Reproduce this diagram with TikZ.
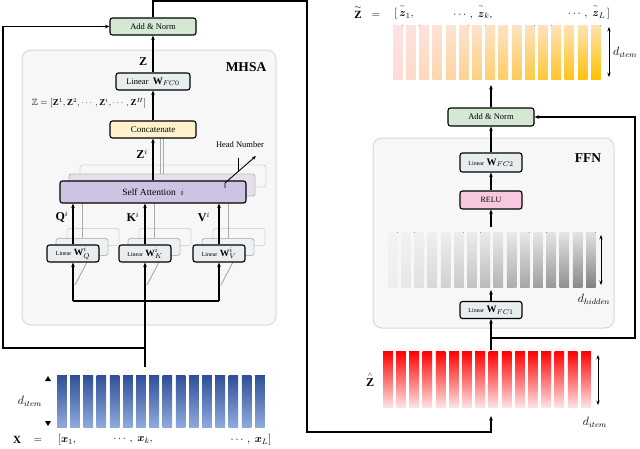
\documentclass[tikz,border=0pt]{standalone}
\usepackage{amsmath,amssymb}
\usepackage{fontspec}
\setmainfont{Liberation Serif}
\usetikzlibrary{arrows.meta,calc}
\definecolor{addC}{HTML}{D5E8D4}
\definecolor{linC}{HTML}{E8EDEF}
\definecolor{catC}{HTML}{FFF2CC}
\definecolor{saC}{HTML}{CDC4E4}
\definecolor{saL}{HTML}{E4E0EE}
\definecolor{reluC}{HTML}{F8C8DF}
\definecolor{contF}{HTML}{F7F7F7}
\definecolor{contB}{HTML}{D9D9D9}
\definecolor{shA}{HTML}{BDBDBD}
\definecolor{shB}{HTML}{D8D8D8}
\definecolor{ghostC}{HTML}{AAAAAA}
\definecolor{blueT}{HTML}{2E4F98}
\definecolor{blueB}{HTML}{8FAADD}
\definecolor{redT}{HTML}{FF0000}
\definecolor{redB}{HTML}{FFE2E2}
\definecolor{tzTL}{HTML}{FDE3E1}
\definecolor{tzTR}{HTML}{FFE2B0}
\definecolor{tzBL}{HTML}{FDDCD8}
\definecolor{tzBR}{HTML}{FFC000}
\definecolor{gTL}{HTML}{F3F3F3}
\definecolor{gTR}{HTML}{E2E2E2}
\definecolor{gBL}{HTML}{EEEEEE}
\definecolor{gBR}{HTML}{828282}
\tikzset{
  wire/.style={line width=1.1pt, draw=black},
  arr/.style={wire, -{Stealth[length=4.5pt,width=3.6pt]}},
  dblarr/.style={line width=0.7pt, {Stealth[length=4.5pt,width=3.4pt]}-{Stealth[length=4.5pt,width=3.4pt]}},
  blk/.style={draw=black, line width=1.1pt, rounded corners=2.5pt, inner sep=0pt, font=\fontsize{8.5}{9}\selectfont},
  container/.style={draw=contB, fill=contF, line width=1pt, rounded corners=9pt},
  shadowA/.style={draw=shA, line width=0.9pt, rounded corners=2.5pt, inner sep=0pt},
  shadowB/.style={draw=shB, line width=0.9pt, rounded corners=2.5pt, inner sep=0pt},
  ghost/.style={draw=ghostC, line width=0.9pt},
  lbl/.style={inner sep=0pt, font=\fontsize{11}{12}\selectfont},
}
\newcommand{\lintxt}{\mbox{\fontsize{6}{7}\selectfont Linear}}
\newcommand{\tz}[1]{\overset{\scriptscriptstyle\sim}{\boldsymbol{z}\vphantom{\mathbf{Z}}}_{#1}}
\begin{document}
\begin{tikzpicture}[x=1pt,y=-1pt]
\useasboundingbox (0,0) rectangle (640,448);
\fill[white] (0,0) rectangle (640,448);

% ---------- containers ----------
\draw[container] (22,50) rectangle (276,325);
\draw[container] (373,138) rectangle (614,328);
\node[lbl, font=\fontsize{13.5}{14}\selectfont\bfseries] (mhsa) at (246,67) {MHSA};
\node[lbl, font=\fontsize{13.5}{14}\selectfont\bfseries] (ffn) at (588,158) {FFN};

% ---------- shadow copies ----------
\node[shadowB, fill=contF, minimum width=186pt, minimum height=22pt] (sa2) at (173,176) {};
\node[shadowA, fill=saL, minimum width=186pt, minimum height=22pt] (sa1) at (162,185) {};
\foreach \nm/\cx in {q/73,k/145,v/219}{
  \node[shadowB, fill=contF, minimum width=52pt, minimum height=17pt] (\nm2) at (\cx+20,237) {};
  \node[shadowA, fill=linC!50!contF, minimum width=52pt, minimum height=17pt] (\nm1) at (\cx+9,247) {};
  \draw[ghost] (\nm1.north) -- (\nm1.north |- sa1.south);
  \draw[ghost] (\cx+2,285) -- (\cx+14,262);
}
\draw[ghost] ($(sa1.north)+(-2,0)$) -- ++(0,-36);
\draw[ghost] ($(sa1.north)+(1,0)$) -- ++(0,-36);

% ---------- left blocks ----------
\node[blk, fill=addC, minimum width=86pt, minimum height=17pt] (an1) at (153,26.5) {Add \& Norm};
\node[blk, fill=linC, minimum width=74pt, minimum height=17pt] (fc0) at (153,81.5) {Linear\ \ {\fontsize{10}{11}\selectfont$\mathbf{W}_{FC0}$}};
\node[blk, fill=catC, minimum width=86pt, minimum height=17pt, font=\fontsize{9}{10}\selectfont] (concat) at (153,129.5) {Concatenate};
\node[blk, fill=saC, minimum width=186pt, minimum height=22pt, font=\fontsize{9.5}{10}\selectfont] (sa) at (153,192) {Self Attention\ \ $i$};
\node[blk, fill=linC, minimum width=52pt, minimum height=17pt, font=\fontsize{9.5}{10}\selectfont] (lq) at (73,253.5) {\lintxt\ $\mathbf{W}^i_Q$};
\node[blk, fill=linC, minimum width=52pt, minimum height=17pt, font=\fontsize{9.5}{10}\selectfont] (lk) at (145,253.5) {\lintxt\ $\mathbf{W}^i_K$};
\node[blk, fill=linC, minimum width=52pt, minimum height=17pt, font=\fontsize{9.5}{10}\selectfont] (lv) at (219,253.5) {\lintxt\ $\mathbf{W}^i_V$};

\node[lbl, font=\fontsize{12}{13}\selectfont] (zl) at (143,62) {$\mathbf{Z}$};
\node[lbl, font=\fontsize{9}{10}\selectfont] (form) at (89,103) {$\mathbb{Z}=[\mathbf{Z}^1,\mathbf{Z}^2,\cdots,\mathbf{Z}^i,\cdots,\mathbf{Z}^H]$};
\node[lbl, font=\fontsize{12}{13}\selectfont] (zi) at (142,154) {$\mathbf{Z}^i$};
\node[lbl, font=\fontsize{8.5}{9}\selectfont] (hn) at (240,145) {Head Number};
\node[lbl, font=\fontsize{12}{13}\selectfont] (ql) at (62,217) {$\mathbf{Q}^i$};
\node[lbl, font=\fontsize{12}{13}\selectfont] (kl) at (133,217) {$\mathbf{K}^i$};
\node[lbl, font=\fontsize{12}{13}\selectfont] (vl) at (204,217) {$\mathbf{V}^i$};

% head number symbol
\draw[line width=0.9pt, -{Stealth[length=4pt,width=3.2pt]}] (225,188) -- (225,183) -- (256,156);
\draw[line width=0.9pt] (238,158) -- (238,171.5);

% ---------- left connectors ----------
\draw[arr] (fc0.north) -- (an1.south);
\draw[arr] (concat.north) -- (fc0.south);
\draw[arr] (sa.north) -- (concat.south);
\draw[arr] (lq.north) -- (lq.north |- sa.south);
\draw[arr] (lk.north) -- (lk.north |- sa.south);
\draw[arr] (lv.north) -- (lv.north |- sa.south);

\coordinate (xin) at (145,367);
\coordinate (split) at (145,301);
\coordinate (res1) at (145,348);
\coordinate (lc) at (3,348);
\draw[arr] (xin) -- (lk.south);
\draw[wire] (lq.south |- split) -- (lv.south |- split);
\draw[arr] (lq.south |- split) -- (lq.south);
\draw[arr] (lv.south |- split) -- (lv.south);
\draw[arr] (res1) -- (lc) -- (lc |- an1.west) -- (an1.west);

% top wire to the right side
\coordinate (tw) at (307,1);
\coordinate (hzb) at (491,416);
\draw[arr] (an1.north) -- (an1.north |- tw) -- (tw) -- (307,432) -- (hzb |- 0,432) -- (hzb);

% ---------- X bars ----------
\foreach \i in {0,...,15}{
  \pgfmathsetmacro\xa{57+\i*13.2}
  \fill[top color=blueT, bottom color=blueB] (\xa,375) rectangle ++(9.6,52);
}
\fill (48,376) -- (45,381) -- (51,381) -- cycle;
\fill (48,426) -- (45,421) -- (51,421) -- cycle;
\node[lbl, font=\fontsize{12}{13}\selectfont] (dl) at (30,401) {$d_{item}$};
\node[lbl] (xl) at (17,440) {$\mathbf{X}$};
\node[lbl] (xeq) at (38,440) {$=$};
\node[lbl] (x1) at (67,440) {$[\boldsymbol{x}_1,$};
\node[lbl] (xk) at (133,440) {$\cdots,\ \boldsymbol{x}_k,$};
\node[lbl] (xL) at (251,440) {$\cdots,\ \boldsymbol{x}_L]$};

% ---------- right side ----------
\foreach \i in {0,...,15}{
  \pgfmathsetmacro\xa{393+\i*13.2}
  \pgfmathtruncatemacro\p{round(\i*100/15)}
  \fill[top color=tzTR!\p!tzTL, bottom color=tzBR!\p!tzBL] (\xa,25) rectangle ++(9.6,54);
}
\draw[dblarr] (609,27) -- (609,77);
\node[lbl, anchor=west, font=\fontsize{12}{13}\selectfont] (dt) at (613,52) {$d_{item}$};
\node[lbl] (tzl) at (358,12) {$\overset{\sim}{\mathbf{Z}}$};
\node[lbl] (tzeq) at (376,15) {$=$};
\node[lbl] (tz1) at (404,12) {$[\,\tz{1},$};
\node[lbl] (tzk) at (473,12) {$\cdots,\;\tz{k},$};
\node[lbl] (tzL) at (589,12) {$\cdots,\;\tz{L}\,]$};

\node[blk, fill=addC, minimum width=86pt, minimum height=18pt] (an2) at (491,117) {Add \& Norm};
\node[blk, fill=linC, minimum width=62pt, minimum height=19pt, font=\fontsize{10}{11}\selectfont] (fc2) at (491,162.5) {\lintxt\ $\mathbf{W}_{FC2}$};
\node[blk, fill=reluC, minimum width=62pt, minimum height=18pt, font=\fontsize{8}{9}\selectfont] (relu) at (491,200) {RELU};
\node[blk, fill=linC, minimum width=62pt, minimum height=17pt, font=\fontsize{10}{11}\selectfont] (fc1) at (491,310) {\lintxt\ $\mathbf{W}_{FC1}$};

\foreach \i in {0,...,15}{
  \pgfmathsetmacro\xa{388+\i*13.2}
  \pgfmathtruncatemacro\p{round(\i*100/15)}
  \fill[top color=gTR!\p!gTL, bottom color=gBR!\p!gBL] (\xa,232) rectangle ++(9.6,55);
}
\draw[dblarr] (601,235) -- (601,285);
\node[lbl, font=\fontsize{12}{13}\selectfont] (dh) at (594,299) {$d_{hidden}$};

\foreach \i in {0,...,15}{
  \pgfmathsetmacro\xa{383+\i*13.2}
  \fill[top color=redT, bottom color=redB] (\xa,351) rectangle ++(9.6,56);
}
\draw[dblarr] (598,355) -- (598,405);
\node[lbl, font=\fontsize{12}{13}\selectfont] (hz) at (370,379) {$\overset{\scriptscriptstyle\wedge}{\mathbf{Z}}$};
\node[lbl, font=\fontsize{12}{13}\selectfont] (di2) at (595,422) {$d_{item}$};

\coordinate (tzb) at (491,85);
\coordinate (gtop) at (491,227);
\coordinate (gbot) at (491,290);
\coordinate (hztop) at (491,350);
\coordinate (rj) at (491,338);
\coordinate (rc) at (635,338);
\draw[arr] (an2.north) -- (tzb);
\draw[arr] (fc2.north) -- (an2.south);
\draw[arr] (relu.north) -- (fc2.south);
\draw[arr] (gtop) -- (relu.south);
\draw[arr] (fc1.north) -- (gbot);
\draw[arr] (hztop) -- (fc1.south);
\draw[arr] (rj) -- (rc) -- (rc |- an2.east) -- (an2.east);
\end{tikzpicture}
\end{document}
